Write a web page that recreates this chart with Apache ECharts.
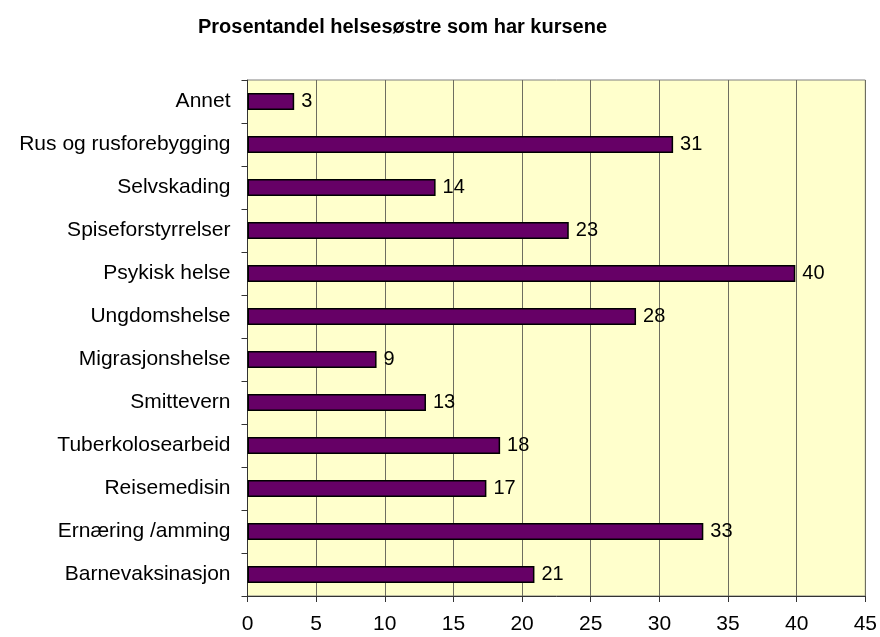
<!DOCTYPE html>
<html>
<head>
<meta charset="utf-8">
<script src="https://cdn.jsdelivr.net/npm/echarts@6/dist/echarts.min.js"></script>
<style>
    html, body { margin: 0; padding: 0; background: #fff; }
    #chart { width: 880px; height: 637px; }
</style>
</head>
<body>
<div id="chart"></div>
<script>
'use strict';
// categories listed bottom to top
var courses = ['Barnevaksinasjon', 'Ernæring /amming', 'Reisemedisin', 'Tuberkolosearbeid',
    'Smittevern', 'Migrasjonshelse', 'Ungdomshelse', 'Psykisk helse',
    'Spiseforstyrrelser', 'Selvskading', 'Rus og rusforebygging', 'Annet'];
var percent = [20.9, 33.2, 17.4, 18.4, 13.0, 9.4, 28.3, 39.9, 23.4, 13.7, 31.0, 3.4];
var xTicks = [0, 5, 10, 15, 20, 25, 30, 35, 40, 45];

var chart = echarts.init(document.getElementById('chart'));
var font = 'Liberation Sans, Arial, sans-serif';

var options = {
    animation: false,
    title: {
        text: 'Prosentandel helsesøstre som har kursene',
        left: 193,
        top: 12,
        textStyle: {
            fontFamily: font,
            fontSize: 20,
            fontWeight: 'bold',
            color: '#000'
        }
    },
    grid: {
        left: 247.5,
        right: 14,
        top: 80,
        bottom: 41,
        show: true,
        backgroundColor: '#FFFFCC',
        borderColor: '#808080',
        borderWidth: 1
    },
    xAxis: {
        type: 'value',
        min: xTicks[0],
        max: xTicks[xTicks.length - 1],
        interval: 5,
        axisLine: { show: true, lineStyle: { color: '#333', width: 1 } },
        axisTick: { show: true, length: 6, lineStyle: { color: '#333' } },
        axisLabel: {
            margin: 18,
            fontFamily: font,
            fontSize: 21,
            color: '#000'
        },
        splitLine: { show: true, lineStyle: { color: '#6e6e60', width: 1 } }
    },
    yAxis: {
        type: 'category',
        data: courses,
        axisLine: { show: true, lineStyle: { color: '#333', width: 1 } },
        axisTick: { show: true, length: 6, lineStyle: { color: '#333' } },
        axisLabel: {
            margin: 17,
            fontFamily: font,
            fontSize: 21,
            color: '#000'
        },
        splitLine: { show: false }
    },
    series: [{
        type: 'bar',
        data: percent,
        barWidth: 17,
        itemStyle: {
            color: '#660066',
            borderColor: '#000',
            borderWidth: 1.5
        },
        label: {
            show: true,
            position: 'right',
            distance: 7,
            fontFamily: font,
            fontSize: 20,
            color: '#000',
            formatter: function(p) {
                return Math.round(p.value);
            }
        }
    }]
};
chart.setOption(options);
</script>
</body>
</html>
